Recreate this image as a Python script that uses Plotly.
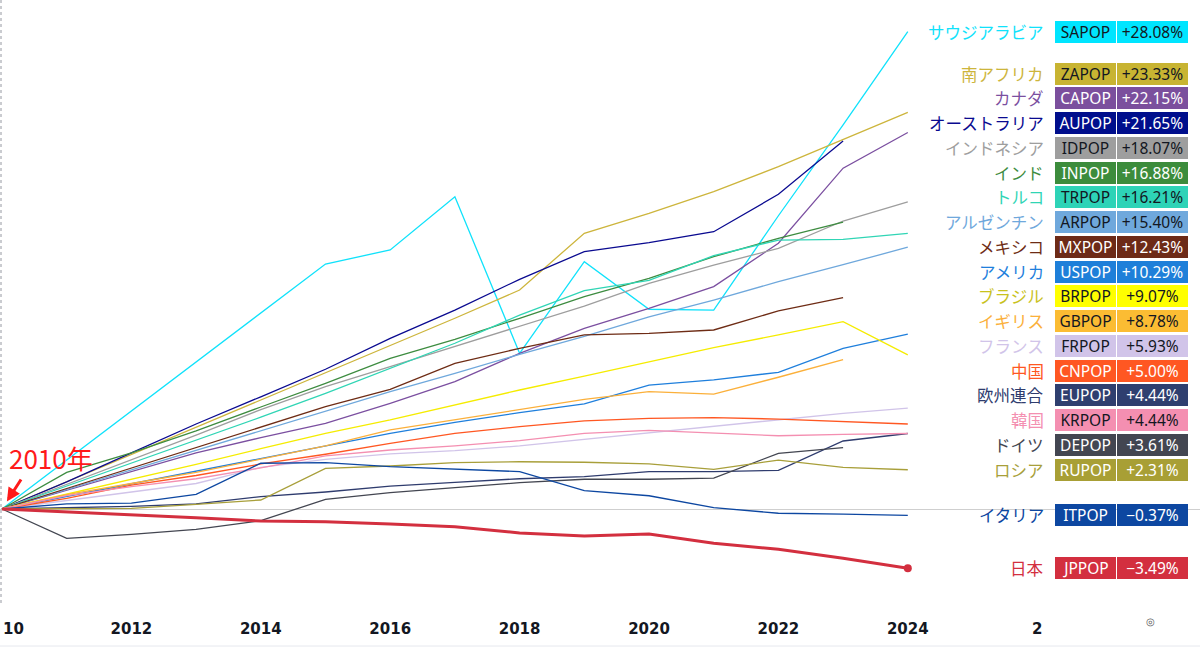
import plotly.graph_objects as go

# ---------------- data (percent change vs 2010) ----------------
years = list(range(2010, 2025))

sa_pop = [0, 2.88, 5.76, 8.64, 11.52, 14.41, 15.24, 18.37, 9.16, 14.55, 11.75, 11.70, 17.25, 22.60, 28.08]
za_pop = [0, 1.60, 3.20, 4.80, 6.40, 7.98, 9.59, 11.22, 12.88, 16.22, 17.39, 18.67, 20.14, 21.75, 23.33]
ca_pop = [0, 1.10, 2.20, 3.30, 4.20, 5.04, 6.22, 7.49, 9.16, 10.63, 11.80, 13.08, 15.63, 20.05, 22.15]
au_pop = [0, 1.60, 3.30, 5.00, 6.60, 8.22, 10.04, 11.70, 13.51, 15.14, 15.67, 16.31, 18.51, 21.65, None]
id_pop = [0, 1.45, 2.90, 4.35, 5.85, 7.20, 8.37, 9.55, 10.76, 11.94, 13.27, 14.35, 15.33, 16.94, 18.07]
in_pop = [0, 2.15, 3.30, 4.60, 6.00, 7.39, 8.86, 9.98, 11.22, 12.49, 13.57, 14.84, 15.92, 16.88, None]
tr_pop = [0, 1.35, 2.70, 4.05, 5.40, 6.80, 8.27, 9.75, 11.41, 12.84, 13.45, 14.90, 15.82, 15.86, 16.21]
ar_pop = [0, 1.15, 2.30, 3.46, 4.61, 5.78, 6.90, 7.98, 9.10, 10.15, 11.30, 12.29, 13.37, 14.37, 15.40]
mx_pop = [0, 1.20, 2.40, 3.60, 4.80, 6.02, 7.04, 8.57, 9.45, 10.24, 10.33, 10.53, 11.65, 12.43, None]
us_pop = [0, 0.74, 1.49, 2.20, 2.94, 3.67, 4.45, 5.10, 5.67, 6.18, 7.29, 7.59, 8.04, 9.45, 10.29]
br_pop = [0, 0.87, 1.75, 2.62, 3.55, 4.45, 5.24, 6.12, 7.00, 7.82, 8.67, 9.49, 10.24, 11.02, 9.07]
gb_pop = [0, 0.84, 1.50, 2.15, 2.93, 3.71, 4.65, 5.24, 5.86, 6.45, 6.90, 6.76, 7.75, 8.78, None]
fr_pop = [0, 0.50, 1.00, 1.50, 2.45, 2.92, 3.24, 3.43, 3.71, 4.10, 4.45, 4.84, 5.24, 5.63, 5.93]
cn_pop = [0, 0.63, 1.41, 1.97, 2.65, 3.22, 3.86, 4.45, 4.84, 5.18, 5.33, 5.37, 5.29, 5.14, 5.00]
eu_pop = [0, 0.08, 0.15, 0.30, 0.73, 1.00, 1.35, 1.57, 1.78, 1.90, 2.20, 2.20, 2.27, 4.00, 4.44]
kr_pop = [0, 0.79, 1.31, 1.78, 2.42, 3.12, 3.47, 3.71, 4.02, 4.45, 4.63, 4.49, 4.31, 4.39, 4.44]
de_pop = [0, -1.73, -1.49, -1.20, -0.69, 0.57, 0.96, 1.25, 1.55, 1.75, 1.75, 1.82, 3.27, 3.61, None]
ru_pop = [0, 0.02, 0.04, 0.27, 0.53, 2.39, 2.53, 2.73, 2.78, 2.75, 2.65, 2.33, 2.88, 2.45, 2.31]
it_pop = [0, 0.30, 0.35, 0.86, 2.69, 2.73, 2.49, 2.33, 2.20, 1.08, 0.78, 0.08, -0.25, -0.30, -0.37]
jp_pop = [0, -0.16, -0.35, -0.51, -0.71, -0.75, -0.88, -1.04, -1.41, -1.59, -1.47, -2.02, -2.37, -2.90, -3.49]

names = ["サウジアラビア", "南アフリカ", "カナダ", "オーストラリア", "インドネシア", "インド",
         "トルコ", "アルゼンチン", "メキシコ", "アメリカ", "ブラジル", "イギリス", "フランス",
         "中国", "欧州連合", "韓国", "ドイツ", "ロシア", "イタリア", "日本"]
tickers = ["SAPOP", "ZAPOP", "CAPOP", "AUPOP", "IDPOP", "INPOP", "TRPOP", "ARPOP", "MXPOP",
           "USPOP", "BRPOP", "GBPOP", "FRPOP", "CNPOP", "EUPOP", "KRPOP", "DEPOP", "RUPOP",
           "ITPOP", "JPPOP"]
series = [sa_pop, za_pop, ca_pop, au_pop, id_pop, in_pop, tr_pop, ar_pop, mx_pop, us_pop,
          br_pop, gb_pop, fr_pop, cn_pop, eu_pop, kr_pop, de_pop, ru_pop, it_pop, jp_pop]

x_ticks = [2012, 2014, 2016, 2018, 2020, 2022, 2024, 2026]
x_tick_text = ["2012", "2014", "2016", "2018", "2020", "2022", "2024", "2"]
edge_tick_text = "10"   # the clipped "2010" label seen at the left edge

# ---------------- styles ----------------
line_colors = ["#10e2fb", "#cdb53c", "#7b4fa0", "#0a0a90", "#9e9e9e", "#3d8c40", "#30d5b5",
               "#6fa8dc", "#6e2c15", "#1f7fdc", "#f5ec00", "#fbb03b", "#d1c4e9", "#ff5722",
               "#2f3c6e", "#f48fb1", "#434651", "#a89f3a", "#0d47a1", "#d32f3f"]
box_colors = ["#00e5ff", "#c8b432", "#7b4f9d", "#000e8c", "#9e9e9e", "#3c8c3c", "#2ed3b7",
              "#6fa8dc", "#6d2a17", "#1e7fd9", "#ffff00", "#fbbc33", "#d1c4e9", "#ff5722",
              "#2f3f6f", "#f48fb1", "#434651", "#a89f35", "#0d47a1", "#d32f3f"]
name_colors = list(line_colors)
name_colors[10] = "#c9c21e"
box_text = ["#131722", "#131722", "white", "white", "#131722", "white", "#131722", "#131722",
            "white", "white", "#131722", "#131722", "#131722", "white", "white", "#131722",
            "white", "white", "white", "white"]

W, H = 1200, 654
M_B = 42
plot_h = H - M_B
zero_px = 509          # pixel row of 0 %
ppu = 17.0             # pixels per percent
y_max = zero_px / ppu
y_min = -(plot_h - zero_px) / ppu
ppy = 64.7             # pixels per year
x_min = 2010 - 2 / ppy
x_max = x_min + W / ppy

tick_font = dict(family="DejaVu Sans", size=15, color="#131722", weight="bold")

fig = go.Figure()

for i, s in enumerate(series):
    is_jp = tickers[i] == "JPPOP"
    fig.add_trace(go.Scatter(
        x=years, y=s, mode="lines",
        line=dict(color=line_colors[i], width=3 if is_jp else 1.3),
        hoverinfo="skip", showlegend=False))

# end dot on Japan
fig.add_trace(go.Scatter(x=[years[-1]], y=[jp_pop[-1]], mode="markers",
                         marker=dict(color=line_colors[-1], size=8),
                         hoverinfo="skip", showlegend=False))

# ---------------- right-side labels ----------------
def last_val(s):
    return [v for v in s if v is not None][-1]

finals = [last_val(s) for s in series]
gap = 24.75 / ppu
pos = [0.0] * len(finals)
prev = None
for i in reversed(range(len(finals))):
    p = finals[i]
    if prev is not None:
        p = max(p, prev + gap)
    pos[i] = p
    prev = p

ann = []
for i in range(len(series)):
    val_txt = f"{finals[i]:+.2f}%".replace("-", "\u2212")
    ann.append(dict(x=1046 / W, xref="paper", y=pos[i], yref="y", xanchor="right",
                    yanchor="middle", text=names[i], showarrow=False,
                    font=dict(family="Noto Sans CJK JP", size=16.5, color=name_colors[i])))
    ann.append(dict(x=1115.5 / W, xref="paper", y=pos[i], yref="y", xanchor="right",
                    yanchor="middle", text=tickers[i], showarrow=False,
                    width=61, height=22, bgcolor=box_colors[i], borderpad=0, borderwidth=0,
                    font=dict(family="Noto Sans", size=15.5, color=box_text[i])))
    ann.append(dict(x=1117 / W, xref="paper", y=pos[i], yref="y", xanchor="left",
                    yanchor="middle", text=val_txt, showarrow=False,
                    width=71, height=22, bgcolor=box_colors[i], borderpad=0, borderwidth=0,
                    font=dict(family="Noto Sans", size=15.5, color=box_text[i])))

# "2010年" callout
ann.append(dict(x=years[0], y=(zero_px - 457) / ppu, xref="x", yref="y", xanchor="left",
                yanchor="middle", xshift=5, text="2010年", showarrow=False,
                font=dict(family="Noto Sans CJK JP", size=26, color="#ff1a1a")))
ann.append(dict(x=years[0], y=0, xref="x", yref="y", text="", showarrow=True,
                ax=20, ay=-31, arrowhead=2, arrowsize=0.9, arrowwidth=3,
                arrowcolor="#ff1a1a", standoff=9))
# clipped first time-axis label
ann.append(dict(x=1 / W, xref="paper", y=-(629 - plot_h) / plot_h, yref="paper",
                xanchor="left", yanchor="middle", text=edge_tick_text, showarrow=False,
                font=tick_font))
# settings glyph in the time-axis corner
ann.append(dict(x=1157 / W, xref="paper", y=-(630 - plot_h) / plot_h, yref="paper",
                text="◎", showarrow=False, font=dict(size=10, color="#555555")))

shapes = [
    dict(type="line", xref="paper", yref="paper", x0=1 / W, x1=1 / W, y0=1,
         y1=(plot_h - 606) / plot_h, line=dict(color="#9598a1", width=1, dash="dot")),
    dict(type="line", xref="paper", yref="paper", x0=0, x1=1,
         y0=-(646 - plot_h) / plot_h, y1=-(646 - plot_h) / plot_h,
         line=dict(color="#e6e8ee", width=1)),
]

fig.update_layout(
    width=W, height=H,
    margin=dict(l=0, r=0, t=0, b=M_B, pad=0),
    paper_bgcolor="white", plot_bgcolor="white",
    showlegend=False,
    annotations=ann, shapes=shapes,
    xaxis=dict(range=[x_min, x_max], showgrid=False, zeroline=False, showline=False,
               tickmode="array", tickvals=x_ticks, ticktext=x_tick_text, ticks="",
               automargin=False, ticklabelstandoff=6, ticklabeloverflow="allow",
               tickfont=tick_font),
    yaxis=dict(range=[y_min, y_max], showgrid=False, showticklabels=False, ticks="",
               zeroline=True, zerolinecolor="#cfcfcf", zerolinewidth=1, automargin=False),
)

fig.write_html("out.html", config={"displayModeBar": False},
               post_script="document.body.style.margin='0';document.body.style.overflow='hidden';")
